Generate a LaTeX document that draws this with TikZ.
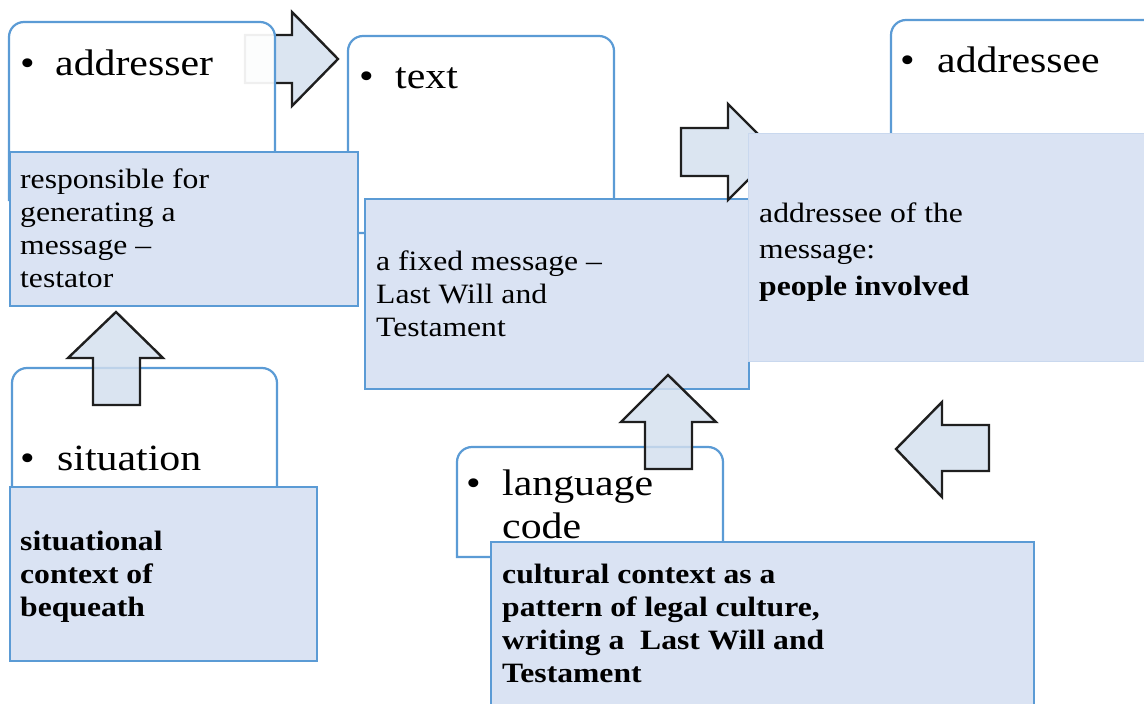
\documentclass[tikz,border=0pt]{standalone}
\usepackage{fontspec}
\setmainfont{Liberation Serif}[FakeStretch=1.13]
\definecolor{boxline}{HTML}{5B9BD5}
\definecolor{boxfill}{HTML}{DAE3F3}
\definecolor{arrowfill}{HTML}{D3DFEE}
\definecolor{arrowline}{HTML}{1F1F1F}
\definecolor{faintline}{HTML}{C9D8EE}
\newcommand\rtbox[5][]{\path[rbox,#1] (#2,#5) -- (#2,#3+15) arc[start angle=180,end angle=270,radius=15] -- (#4-15,#3) arc[start angle=270,end angle=360,radius=15] -- (#4,#5) -- cycle;}
\newcommand\bigtxt{\fontsize{37}{43}\selectfont}
\newcommand\smalltxt{\fontsize{28}{33}\selectfont}
\tikzset{
  rbox/.style={draw=boxline, line width=2.2pt, fill=white},
  bbox/.style={draw=boxline, line width=2.2pt, fill=boxfill},
  barrow/.style={draw=arrowline, line width=2.4pt, fill=arrowfill, fill opacity=0.82, line join=miter},
  txt/.style={inner sep=0pt, anchor=base west, text=black},
}
\begin{document}
\begin{tikzpicture}[x=1pt,y=-1pt]
\useasboundingbox (0,0) rectangle (1144,704);
% arrow addresser -> text (behind addresser box)
\path[barrow] (245,35) -- (292,35) -- (292,12) -- (338,59) -- (292,106) -- (292,83) -- (245,83) -- cycle;
% addresser
\rtbox[fill opacity=0.93]{9}{22}{275}{200}
\node[txt] (b1) at (20,75) {\bigtxt •};
\node[txt] (addresser) at (55,75) {\bigtxt addresser};
% text
\rtbox{348}{36}{614}{233}
\node[txt] (b2) at (359,88) {\bigtxt •};
\node[txt] (text) at (395,88) {\bigtxt text};
% box 1
\path[bbox] (10,152) rectangle (358,306);
\node[txt] (t1) at (20,188) {\parbox[t]{330pt}{\smalltxt\raggedright responsible for\\generating a\\message –\\testator}};
% box 2
\path[bbox] (365,199) rectangle (749,389);
\node[txt] (t2) at (376,270) {\parbox[t]{360pt}{\smalltxt\raggedright a fixed message –\\Last Will and\\Testament}};
% arrow text -> addressee
\path[barrow] (681,128) -- (728,128) -- (728,104) -- (776,152) -- (728,200) -- (728,176) -- (681,176) -- cycle;
% addressee
\rtbox{891}{20}{1200}{250}
\node[txt] (b3) at (900,72) {\bigtxt •};
\node[txt] (addressee) at (937,72) {\bigtxt addressee};
% box 3
\path[fill=boxfill, draw=faintline, line width=1pt] (748,133) rectangle (1160,361);
\node[txt] (t3) at (759,222) {\parbox[t]{380pt}{\fontsize{28}{36.5}\selectfont\raggedright addressee of the\\message:\\\textbf{people involved}}};
% situation
\rtbox{12}{368}{277}{520}
\node[txt] (b4) at (20,470) {\bigtxt •};
\node[txt] (situation) at (57,470) {\bigtxt situation};
\path[bbox] (10,487) rectangle (317,661);
\node[txt] (t4) at (20,550) {\parbox[t]{290pt}{\smalltxt\bfseries\raggedright situational\\context of\\bequeath}};
% up arrow situation -> addresser
\path[barrow] (93,405) -- (93,358) -- (68,358) -- (116,312) -- (163,358) -- (140,358) -- (140,405) -- cycle;
% language code
\rtbox{457}{447}{723}{557}
\node[txt] (b5) at (466,495) {\bigtxt •};
\node[txt] (lang) at (502,495) {\parbox[t]{220pt}{\bigtxt\raggedright language\\code}};
\path[bbox] (491,542) rectangle (1034,720);
\node[txt] (t5) at (502,583) {\parbox[t]{520pt}{\smalltxt\bfseries\raggedright cultural context as a\\pattern of legal culture,\\writing a~ Last Will and\\Testament}};
% up arrow language -> text
\path[barrow] (645,469) -- (645,422) -- (621,422) -- (668,375) -- (716,422) -- (692,422) -- (692,469) -- cycle;
% left arrow
\path[barrow] (989,425) -- (942,425) -- (942,402) -- (896,449) -- (942,497) -- (942,471) -- (989,471) -- cycle;
\end{tikzpicture}
\end{document}
